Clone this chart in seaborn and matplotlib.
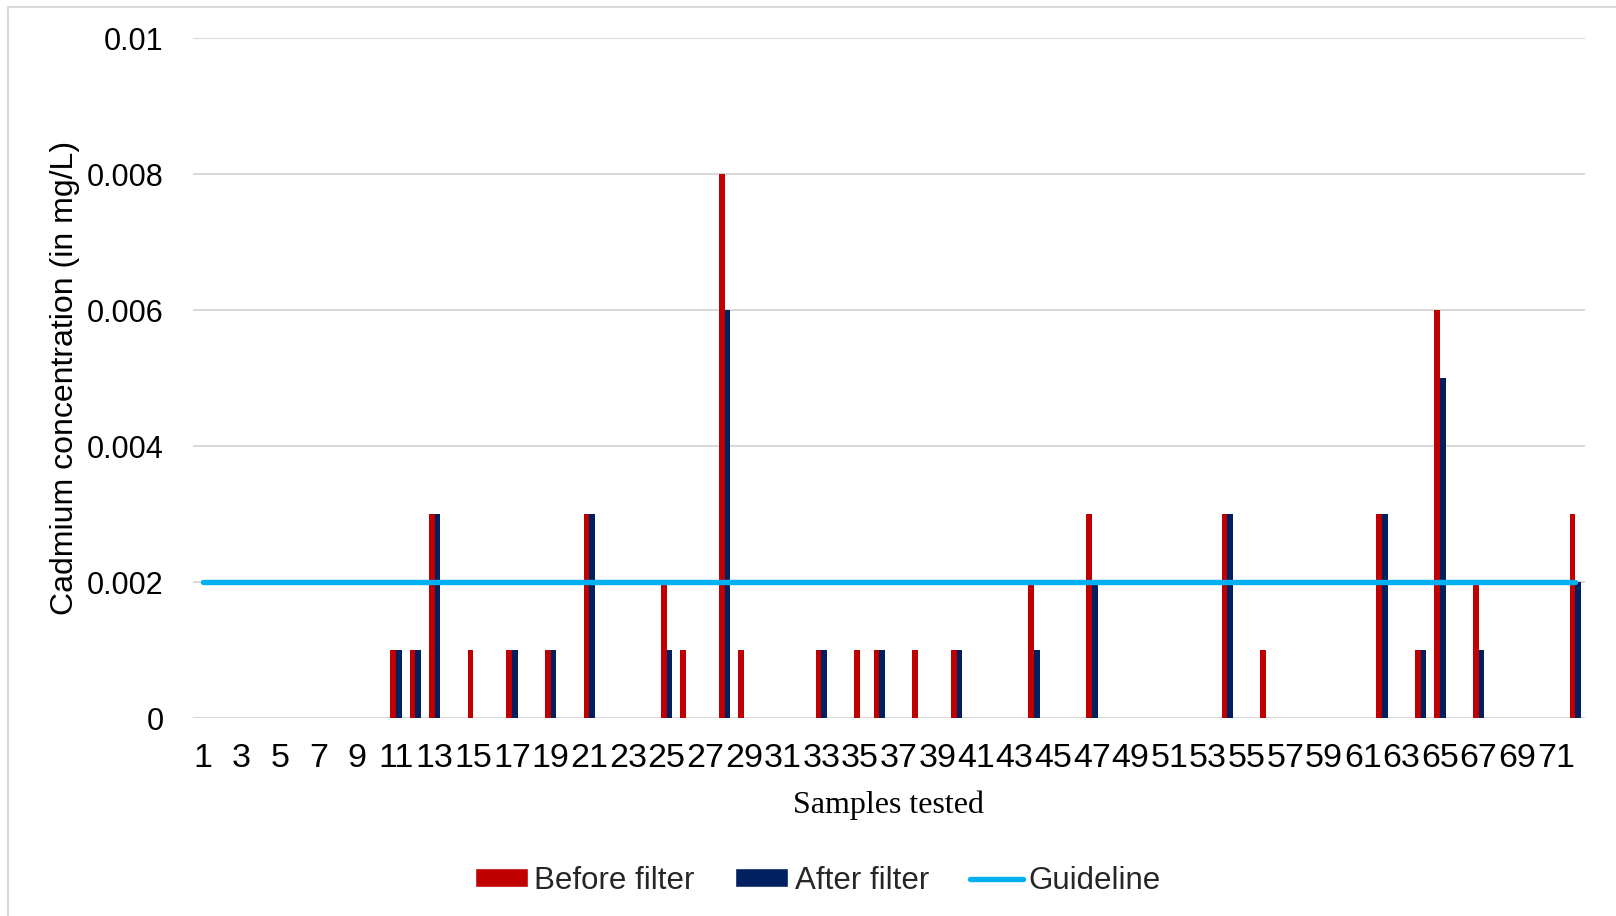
import matplotlib
matplotlib.use("Agg")
import matplotlib.pyplot as plt
from matplotlib.lines import Line2D
from matplotlib.patches import Patch
import seaborn as sns
import pandas as pd

# Sample numbers 1..72
samples = [str(i) for i in range(1, 73)]

# Cadmium concentration (mg/L) before filtration, samples 1-72
before_filter = [
    0, 0, 0, 0, 0, 0, 0, 0, 0, 0,
    0.001, 0.001, 0.003, 0, 0.001, 0, 0.001, 0, 0.001, 0,
    0.003, 0, 0, 0, 0.002, 0.001, 0, 0.008, 0.001, 0,
    0, 0, 0.001, 0, 0.001, 0.001, 0, 0.001, 0, 0.001,
    0, 0, 0, 0.002, 0, 0, 0.003, 0, 0, 0,
    0, 0, 0, 0.003, 0, 0.001, 0, 0, 0, 0,
    0, 0.003, 0, 0.001, 0.006, 0, 0.002, 0, 0, 0,
    0, 0.003,
]

# Cadmium concentration (mg/L) after filtration, samples 1-72
after_filter = [
    0, 0, 0, 0, 0, 0, 0, 0, 0, 0,
    0.001, 0.001, 0.003, 0, 0, 0, 0.001, 0, 0.001, 0,
    0.003, 0, 0, 0, 0.001, 0, 0, 0.006, 0, 0,
    0, 0, 0.001, 0, 0, 0.001, 0, 0, 0, 0.001,
    0, 0, 0, 0.001, 0, 0, 0.002, 0, 0, 0,
    0, 0, 0, 0.003, 0, 0, 0, 0, 0, 0,
    0, 0.003, 0, 0.001, 0.005, 0, 0.001, 0, 0, 0,
    0, 0.002,
]

guideline = 0.002  # mg/L
series_names = ["Before filter", "After filter"]
y_ticks = [0, 0.002, 0.004, 0.006, 0.008, 0.01]
y_tick_labels = ["0", "0.002", "0.004", "0.006", "0.008", "0.01"]

colors = {"Before filter": "#C00000", "After filter": "#002060"}
guide_color = "#00B0F0"
grid_color = "#D9D9D9"

df = pd.DataFrame({
    "Sample": samples * 2,
    "Concentration": before_filter + after_filter,
    "Series": [series_names[0]] * len(samples) + [series_names[1]] * len(samples),
})

sns.set_style("white")
plt.rcParams["font.family"] = ["Liberation Sans", "DejaVu Sans"]

W, H = 1616, 916
fig = plt.figure(figsize=(W / 100, H / 100), dpi=100)
ax = fig.add_axes([193 / W, 1 - 718 / H, (1585 - 193) / W, (718 - 38) / H])

sns.barplot(
    data=df, x="Sample", y="Concentration", hue="Series",
    order=samples, hue_order=series_names, palette=colors,
    width=0.57, saturation=1, errorbar=None, linewidth=0,
    legend=False, ax=ax, zorder=2,
)

# Guideline drawn across all samples
ax.plot(range(len(samples)), [guideline] * len(samples), color=guide_color,
        lw=3.9, solid_capstyle="round", zorder=3)

ax.set_xlim(-0.5, len(samples) - 0.5)
ax.set_ylim(0, 0.01)
ax.set_yticks(y_ticks)
ax.set_yticklabels(y_tick_labels)
ax.set_xticks(range(0, len(samples), 2))
ax.set_xticklabels(samples[::2])
ax.tick_params(axis="y", length=0, pad=21, labelsize=22, labelcolor="black")
ax.tick_params(axis="x", length=0, pad=18, labelsize=24.5, labelcolor="black")

ax.yaxis.grid(True, color=grid_color, lw=1.5, zorder=0)
ax.xaxis.grid(False)
ax.set_axisbelow(True)
for s in ax.spines.values():
    s.set_visible(False)

ax.set_xlabel("Samples tested", family=["Liberation Serif", "DejaVu Serif"],
              fontsize=23, labelpad=12, color="black")
ax.set_ylabel("Cadmium concentration (in mg/L)", fontsize=23, color="black")
ax.yaxis.set_label_coords((80 - 193) / (1585 - 193), 0.5)

handles = [
    Patch(facecolor=colors["Before filter"], label="Before filter"),
    Patch(facecolor=colors["After filter"], label="After filter"),
    Line2D([0], [0], color=guide_color, lw=3.9, solid_capstyle="round", label="Guideline"),
]
fig.legend(handles=handles, loc="center", bbox_to_anchor=(818 / W, 1 - 881 / H),
           ncol=3, frameon=False, fontsize=22.5, handlelength=1.7, handleheight=0.56,
           handletextpad=0.2, columnspacing=1.3)

# Thin chart-area border along the top and left edges
fig.add_artist(Line2D([8 / W, 1.0], [1 - 7 / H, 1 - 7 / H], transform=fig.transFigure,
                      color=grid_color, lw=1.5))
fig.add_artist(Line2D([8 / W, 8 / W], [0.0, 1 - 7 / H], transform=fig.transFigure,
                      color=grid_color, lw=1.5))

fig.savefig("out.png", dpi=100, facecolor="white")
